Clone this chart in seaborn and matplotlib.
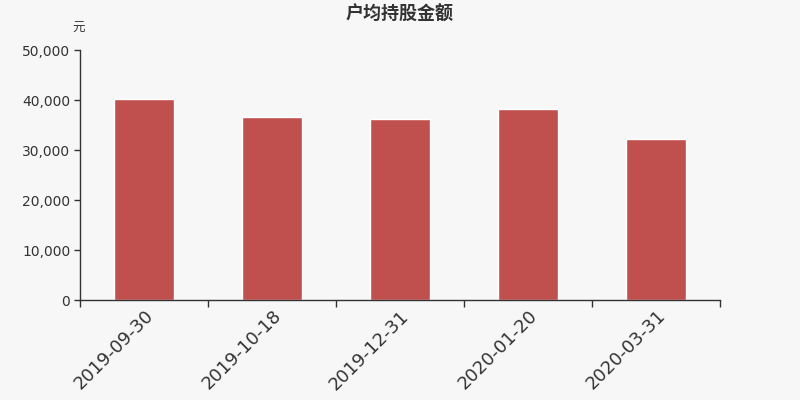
import numpy as np
import pandas as pd
import matplotlib
matplotlib.use('Agg')
import matplotlib.pyplot as plt
import seaborn as sns

# 데이터
dates = ['2019-09-30', '2019-10-18', '2019-12-31', '2020-01-20', '2020-03-31']
amounts = [40250, 36700, 36300, 38300, 32300]

sns.set_style('white')
plt.rcParams['font.family'] = ['Noto Sans CJK SC', 'DejaVu Sans']

bg = '#f7f7f7'
fig = plt.figure(figsize=(8, 4), dpi=100, facecolor=bg)
ax = fig.add_axes([0.1, 0.25, 0.8, 0.625], facecolor=bg)

df = pd.DataFrame({'date': dates, 'amount': amounts})
sns.barplot(data=df, x='date', y='amount', color='#c0504d', saturation=1,
            width=0.47, ax=ax)

ax.set_xlim(-0.5, len(dates) - 0.5)
ax.set_ylim(0, 50000)
ax.set_yticks(np.arange(0, 50001, 10000))
ax.set_yticklabels([f'{v:,}' for v in range(0, 50001, 10000)], fontsize=10, color='#333333',
                   family='DejaVu Sans')

# 축 스타일
for s in ['top', 'right']:
    ax.spines[s].set_visible(False)
for s in ['left', 'bottom']:
    ax.spines[s].set_color('#333333')
    ax.spines[s].set_linewidth(1)

ax.set_xticks(range(len(dates)))
ax.set_xticklabels(dates, rotation=45, ha='right', rotation_mode='anchor',
                   fontsize=13, color='#333333', family='DejaVu Sans')
ax.set_xticks(np.arange(-0.5, len(dates)), minor=True)
ax.tick_params(axis='x', which='major', length=0, pad=5, bottom=True)
ax.tick_params(axis='x', which='minor', length=5, width=1, color='#333333',
               direction='out', bottom=True)
ax.tick_params(axis='y', length=4, width=1, color='#333333', direction='out',
               pad=3, left=True)
ax.set_xlabel('')
ax.set_ylabel('')

fig.text(0.5, 0.965, '户均持股金额', ha='center', va='center', fontsize=13,
         fontweight='bold', color='#333333')
fig.text(0.09, 0.928, '元', ha='left', va='center', fontsize=9, color='#333333')

fig.savefig('out.png', dpi=100, facecolor=bg)
